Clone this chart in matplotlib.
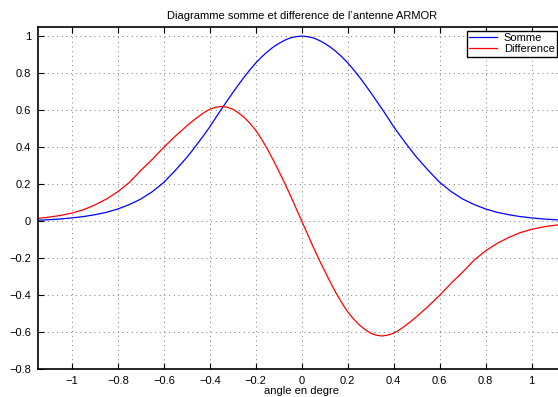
import matplotlib
matplotlib.use('Agg')
import matplotlib.pyplot as plt

plt.rcParams['font.family'] = ['Liberation Sans', 'DejaVu Sans']

# angle (degrees)
angle = [-1.15, -1.1, -1.05, -1.0, -0.95, -0.9, -0.85, -0.8, -0.75, -0.7,
         -0.65, -0.6, -0.55,
         -0.5, -0.475, -0.45, -0.425, -0.4, -0.375, -0.35, -0.325, -0.3, -0.275,
         -0.25, -0.225, -0.2, -0.175, -0.15, -0.125, -0.1, -0.075, -0.05, -0.025,
         0.0,
         0.025, 0.05, 0.075, 0.1, 0.125, 0.15, 0.175, 0.2, 0.225, 0.25,
         0.275, 0.3, 0.325, 0.35, 0.375, 0.4, 0.425, 0.45, 0.475, 0.5,
         0.55, 0.6, 0.65, 0.7, 0.75, 0.8, 0.85, 0.9, 0.95, 1.0,
         1.05, 1.1, 1.15]

somme = [0.005, 0.008, 0.012, 0.018, 0.025, 0.035, 0.048, 0.066, 0.09, 0.12,
         0.16, 0.21, 0.275,
         0.345, 0.384, 0.425, 0.467, 0.51, 0.558, 0.605, 0.65, 0.695, 0.738,
         0.78, 0.819, 0.855, 0.887, 0.915, 0.94, 0.96, 0.977, 0.99, 0.997,
         1.0,
         0.997, 0.99, 0.977, 0.96, 0.94, 0.915, 0.887, 0.855, 0.819, 0.78,
         0.738, 0.695, 0.65, 0.605, 0.558, 0.51, 0.467, 0.425, 0.384, 0.345,
         0.275, 0.21, 0.16, 0.12, 0.09, 0.066, 0.048, 0.035, 0.025, 0.018,
         0.012, 0.008, 0.005]

difference = [0.015, 0.022, 0.031, 0.044, 0.062, 0.088, 0.12, 0.16, 0.21, 0.275,
              0.335, 0.40, 0.46,
              0.515, 0.541, 0.565, 0.587, 0.605, 0.615, 0.62, 0.616, 0.605, 0.585,
              0.56, 0.528, 0.49, 0.443, 0.39, 0.332, 0.27, 0.207, 0.14, 0.07,
              0.0,
              -0.07, -0.14, -0.207, -0.27, -0.332, -0.39, -0.443, -0.49, -0.528, -0.56,
              -0.585, -0.605, -0.616, -0.62, -0.615, -0.605, -0.587, -0.565, -0.541, -0.515,
              -0.46, -0.40, -0.335, -0.275, -0.21, -0.16, -0.12, -0.088, -0.062, -0.044,
              -0.031, -0.022, -0.015]

xticks = [-1, -0.8, -0.6, -0.4, -0.2, 0, 0.2, 0.4, 0.6, 0.8, 1]
yticks = [-0.8, -0.6, -0.4, -0.2, 0, 0.2, 0.4, 0.6, 0.8, 1]

fig = plt.figure(figsize=(5.58, 3.97), dpi=100)
ax = fig.add_axes([38 / 558, 27.7 / 397, 527.6 / 558, 342.3 / 397])

l1, = ax.plot(angle, somme, color='#0000ff', lw=0.9)
l2, = ax.plot(angle, difference, color='#ff0000', lw=0.9)

ax.set_xlim(-1.148, 1.148)
ax.set_ylim(-0.8, 1.049)
ax.set_xticks(xticks)
ax.set_yticks(yticks)
ax.set_xticklabels(['\u22121', '\u22120.8', '\u22120.6', '\u22120.4', '\u22120.2',
                    '0', '0.2', '0.4', '0.6', '0.8', '1'])
ax.set_yticklabels(['\u22120.8', '\u22120.6', '\u22120.4', '\u22120.2',
                    '0', '0.2', '0.4', '0.6', '0.8', '1'])
ax.tick_params(direction='in', top=True, right=True, labelsize=8, length=4,
               width=0.8, pad=5)
ax.grid(True, linestyle=(0, (1, 3.8)), color='#777777', lw=0.7)
for s in ax.spines.values():
    s.set_linewidth(1.2)

ax.set_title("Diagramme somme et difference de l\u2019antenne ARMOR", fontsize=8, pad=6)
ax.set_xlabel('angle en degre', fontsize=8, labelpad=0)

fig.legend([l1, l2], ['Somme', 'Difference'], loc='upper left',
           bbox_to_anchor=(467 / 558, 1 - 31 / 397), fontsize=8,
           fancybox=False, edgecolor='black', framealpha=1,
           handlelength=2.5, borderpad=0.2, labelspacing=0.1,
           handletextpad=0.6, borderaxespad=0)

plt.savefig('out.png', dpi=100)
